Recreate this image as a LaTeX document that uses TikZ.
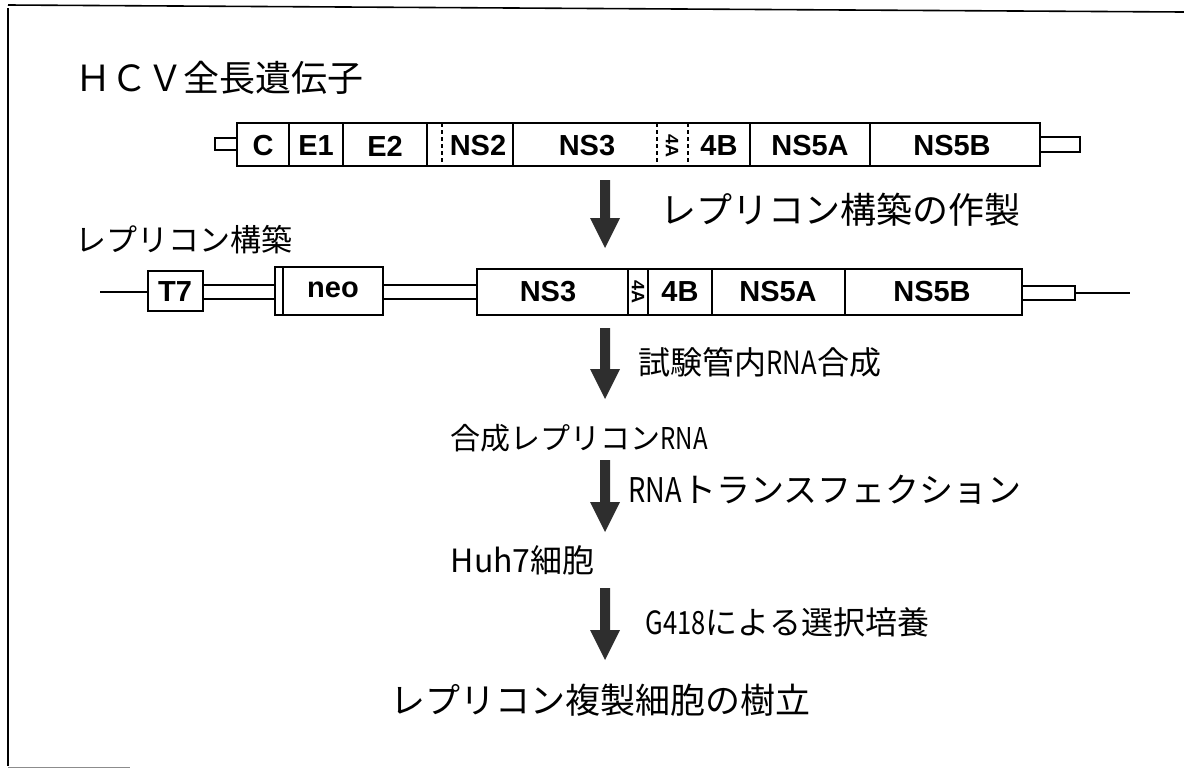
\documentclass[tikz,border=0pt]{standalone}
\usepackage{fontspec}
\setmainfont{Liberation Sans}
\newfontfamily\jp{Noto Sans CJK JP}
\usetikzlibrary{calc}
\newcommand\bigarrow[2]{\fill[arrfill] let \p1=(#1), \p2=(#2) in
  (\x1-5pt,\y1) -- (\x1+5pt,\y1) -- (\x1+5pt,\y2+30pt) -- (\x1+15pt,\y2+30pt)
  -- (\x1,\y2) -- (\x1-15pt,\y2+30pt) -- (\x1-5pt,\y2+30pt) -- cycle;}
\newcommand\cnd[1]{\scalebox{0.8}[1]{#1}}
\begin{document}
\begin{tikzpicture}[x=1pt,y=-1pt,line width=1.4pt,
  gl/.style={font=\fontsize{29}{29}\selectfont\bfseries,inner sep=0},
  small/.style={font=\fontsize{18}{18}\selectfont\bfseries,inner sep=0,rotate=-90},
  jt/.style={font=\jp\fontsize{33}{33}\selectfont,inner sep=0,anchor=west},
  arrfill/.style={fill=black!82},
  dsh/.style={dash pattern=on 4pt off 3pt}]
\useasboundingbox (0,0) rectangle (1184,772);
% frame
\draw[line width=1.6pt] (8,8) -- (8,766);
\draw[line width=1.6pt] (8,5) -- (1184,12);
\draw[line width=1pt,black!45] (8,767) -- (130,767);

% title
\node[jt,font=\jp\fontsize{36}{36}\selectfont] (title) at (75,78) {ＨＣＶ全長遺伝子};

% top gene row
\draw (215,138) rectangle (237,150);
\draw (237,123) rectangle (1040,166);
\draw (1040,137) rectangle (1080,152);
\foreach \x in {289,343,427,513,750,870} \draw (\x,123) -- (\x,166);
\draw[dsh] (442,123) -- (442,166);
\draw[dsh] (657,123) -- (657,166);
\draw[dsh] (688,123) -- (688,166);
\node[gl] (c)   at (263,146) {C};
\node[gl] (e1)  at (316,146) {E1};
\node[gl] (e2)  at (385,146) {E2};
\node[gl] (ns2) at (478,146) {NS2};
\node[gl] (ns3) at (587,146) {NS3};
\node[small] (a4a) at (672,146) {4A};
\node[gl] (b4)  at (719,146) {4B};
\node[gl] (n5a) at (810,146) {NS5A};
\node[gl] (n5b) at (952,146) {NS5B};

% arrow 1
\coordinate (a1s) at (605,180);
\coordinate (a1e) at (605,248);
\bigarrow{a1s}{a1e}
\node[jt,font=\jp\fontsize{36}{36}\selectfont] (t1) at (660,210) {レプリコン構築の作製};
\node[jt,font=\jp\fontsize{31}{31}\selectfont] (t2) at (75,240) {レプリコン構築};

% second row
\draw (100,292) -- (148,292);
\draw (148,271) rectangle (203,311);
\draw (203,285) -- (275,285) (203,299) -- (275,299);
\draw (275,267) rectangle (383,315);
\draw (283,267) -- (283,315);
\draw (383,285) -- (477,285) (383,299) -- (477,299);
\draw (477,269) rectangle (1022,315);
\foreach \x in {628,648,712,845} \draw (\x,269) -- (\x,315);
\draw (1022,286) rectangle (1075,300);
\draw (1075,293) -- (1130,293);
\node[gl] (t7)  at (175,292) {T7};
\node[gl] (neo) at (333,290) {neo};
\node[gl] (s3)  at (548,292) {NS3};
\node[small] (s4a) at (638,292) {4A};
\node[gl] (s4b) at (680,292) {4B};
\node[gl] (s5a) at (778,292) {NS5A};
\node[gl] (s5b) at (932,292) {NS5B};

% arrow 2
\coordinate (a2s) at (605,328);
\coordinate (a2e) at (605,399);
\bigarrow{a2s}{a2e}
\node[jt,font=\jp\fontsize{32}{32}\selectfont] (t3) at (638,362) {試験管内\cnd{RNA}合成};
\node[jt,font=\jp\fontsize{30}{30}\selectfont] (t4) at (450,438) {合成レプリコン\cnd{RNA}};

% arrow 3
\coordinate (a3s) at (605,460);
\coordinate (a3e) at (605,532);
\bigarrow{a3s}{a3e}
\node[jt,font=\jp\fontsize{34}{34}\selectfont] (t5) at (628,490) {\cnd{RNA}トランスフェクション};
\node[jt,font=\jp\fontsize{32}{32}\selectfont] (t6) at (450,560) {Huh7細胞};

% arrow 4
\coordinate (a4s) at (605,588);
\coordinate (a4e) at (605,660);
\bigarrow{a4s}{a4e}
\node[jt,font=\jp\fontsize{32}{32}\selectfont] (t7t) at (645,622) {\cnd{G418}による選択培養};
\node[jt,font=\jp\fontsize{35}{35}\selectfont] (t8) at (390,700) {レプリコン複製細胞の樹立};
\end{tikzpicture}
\end{document}
